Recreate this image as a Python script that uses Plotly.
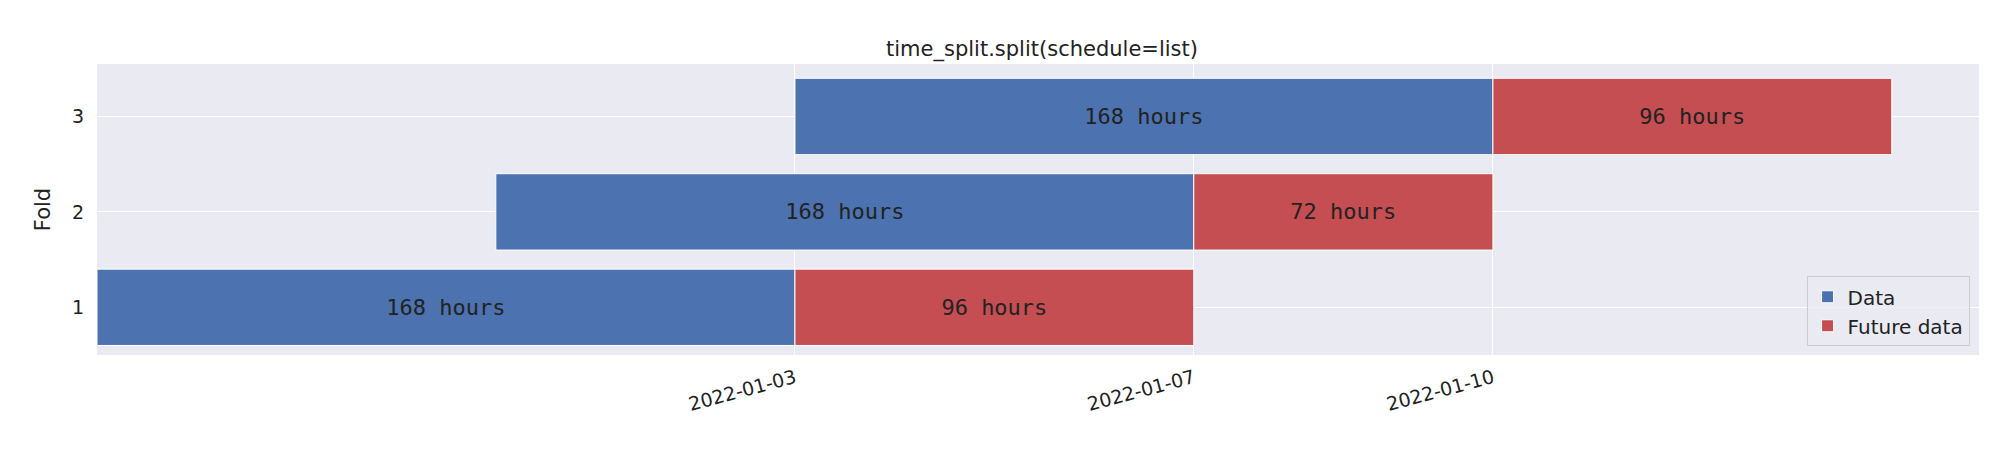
import plotly.graph_objects as go
import pandas as pd

folds = [1, 2, 3]
data_start = ["2021-12-27", "2021-12-31", "2022-01-03"]
data_hours = [168, 168, 168]
future_hours = [96, 72, 96]
tick_labels = ["2022-01-03", "2022-01-07", "2022-01-10"]

ds = pd.to_datetime(data_start)
de = [s + pd.Timedelta(hours=h) for s, h in zip(ds, data_hours)]
H = 3600 * 1000

fig = go.Figure()
fig.add_trace(go.Bar(y=folds, x=[h * H for h in data_hours], base=list(ds), orientation="h",
                     name="Data", marker=dict(color="#4C72B0", line=dict(color="white", width=1)),
                     width=0.8, text=[f"{h} hours" for h in data_hours], textposition="inside",
                     insidetextanchor="middle",
                     textfont=dict(family="DejaVu Sans Mono", size=22, color="#222")))
fig.add_trace(go.Bar(y=folds, x=[h * H for h in future_hours], base=de, orientation="h",
                     name="Future data", marker=dict(color="#C44E52", line=dict(color="white", width=1)),
                     width=0.8, text=[f"{h} hours" for h in future_hours], textposition="inside",
                     insidetextanchor="middle",
                     textfont=dict(family="DejaVu Sans Mono", size=22, color="#222")))
fig.update_layout(
    width=2000, height=450, barmode="overlay",
    margin=dict(l=89, r=29, t=56, b=103),
    plot_bgcolor="#EAEAF2", paper_bgcolor="white",
    font=dict(family="DejaVu Sans", size=19, color="#222"),
    title=dict(text="time_split.split(schedule=list)", x=0.517, xanchor="center", y=0.925, font=dict(size=21)),
    legend=dict(x=0.995, y=0.03, xanchor="right", yanchor="bottom", bgcolor="rgba(234,234,242,0.8)",
                bordercolor="#ccc", borderwidth=1, font=dict(size=20)),
    xaxis=dict(type="date", range=["2021-12-27", "2022-01-14 21:00"], tickvals=tick_labels,
               ticktext=tick_labels, tickangle=-15, gridcolor="white", showline=False, zeroline=False,
               ticks="outside", ticklen=4, tickcolor="rgba(0,0,0,0)"),
    yaxis=dict(range=[0.5, 3.55], tickvals=folds, gridcolor="white", zeroline=False,
               title=dict(text="Fold", font=dict(size=21)), ticklen=8, ticks="outside", tickcolor="rgba(0,0,0,0)"),
)
fig.write_html("out.html")
